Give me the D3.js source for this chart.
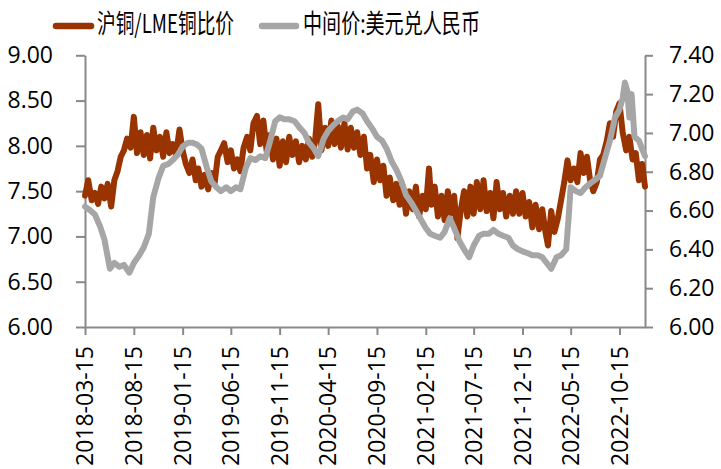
<!DOCTYPE html>
<html><head><meta charset="utf-8">
<script src="https://cdn.jsdelivr.net/npm/d3@7"></script>
<style>
html,body{margin:0;padding:0;background:#fff;}
svg{display:block;}
</style></head>
<body>
<svg id="chart" width="721" height="469"></svg>
<script>
// ---- data ----
const seriesNames = ["沪铜/LME铜比价", "中间价:美元兑人民币"];
const leftTicks = [6.0, 6.5, 7.0, 7.5, 8.0, 8.5, 9.0];
const rightTicks = [6.0, 6.2, 6.4, 6.6, 6.8, 7.0, 7.2, 7.4];
const xTickLabels = ["2018-03-15","2018-08-15","2019-01-15","2019-06-15","2019-11-15","2020-04-15",
  "2020-09-15","2021-02-15","2021-07-15","2021-12-15","2022-05-15","2022-10-15"];
const xDomain = ["2018-03-15", "2023-01-03"];

const copperRatio = [
["2018-03-15",7.45],["2018-03-25",7.62],["2018-04-05",7.40],["2018-04-15",7.48],["2018-04-25",7.36],
["2018-05-05",7.55],["2018-05-15",7.42],["2018-05-25",7.58],["2018-06-05",7.33],["2018-06-15",7.62],
["2018-06-25",7.72],["2018-07-05",7.88],["2018-07-15",7.95],["2018-07-25",8.08],["2018-08-05",7.98],
["2018-08-15",8.32],["2018-08-25",7.92],["2018-09-05",8.15],["2018-09-15",7.90],["2018-09-25",8.12],
["2018-10-05",7.86],["2018-10-15",8.20],["2018-10-25",7.95],["2018-11-05",8.10],["2018-11-15",7.88],
["2018-11-25",8.15],["2018-12-05",7.92],["2018-12-15",8.02],["2018-12-25",7.90],["2019-01-05",8.18],
["2019-01-15",7.95],["2019-01-25",7.80],["2019-02-05",7.70],["2019-02-15",7.85],["2019-02-25",7.62],
["2019-03-05",7.75],["2019-03-15",7.55],["2019-03-25",7.68],["2019-04-05",7.52],["2019-04-15",7.70],
["2019-04-25",7.58],["2019-05-05",7.88],["2019-05-15",7.95],["2019-05-25",8.03],["2019-06-05",7.82],
["2019-06-15",7.95],["2019-06-25",7.75],["2019-07-05",7.85],["2019-07-15",7.72],["2019-07-25",7.98],
["2019-08-05",8.10],["2019-08-15",7.95],["2019-08-25",8.25],["2019-09-05",8.33],["2019-09-15",8.02],
["2019-09-25",8.28],["2019-10-05",7.95],["2019-10-15",8.12],["2019-10-25",7.85],["2019-11-05",8.08],
["2019-11-15",7.78],["2019-11-25",8.05],["2019-12-05",7.82],["2019-12-15",8.10],["2019-12-25",7.90],
["2020-01-05",8.05],["2020-01-15",7.82],["2020-01-25",8.00],["2020-02-05",7.85],["2020-02-15",8.08],
["2020-02-25",7.88],["2020-03-05",8.05],["2020-03-15",8.46],["2020-03-25",7.95],["2020-04-05",8.20],
["2020-04-15",8.00],["2020-04-25",8.28],["2020-05-05",8.02],["2020-05-15",8.22],["2020-05-25",7.98],
["2020-06-05",8.25],["2020-06-15",7.96],["2020-06-25",8.20],["2020-07-05",7.98],["2020-07-15",8.15],
["2020-07-25",7.90],["2020-08-05",8.10],["2020-08-15",7.75],["2020-08-25",7.90],["2020-09-05",7.60],
["2020-09-15",7.85],["2020-09-25",7.62],["2020-10-05",7.78],["2020-10-15",7.45],["2020-10-25",7.65],
["2020-11-05",7.40],["2020-11-15",7.58],["2020-11-25",7.35],["2020-12-05",7.55],["2020-12-15",7.25],
["2020-12-25",7.50],["2021-01-05",7.30],["2021-01-15",7.55],["2021-01-25",7.22],["2021-02-05",7.45],
["2021-02-15",7.30],["2021-02-25",7.75],["2021-03-05",7.35],["2021-03-15",7.55],["2021-03-25",7.22],
["2021-04-05",7.45],["2021-04-15",7.18],["2021-04-25",7.50],["2021-05-05",7.25],["2021-05-15",7.45],
["2021-05-25",6.98],["2021-06-05",7.30],["2021-06-15",7.50],["2021-06-25",7.22],["2021-07-05",7.55],
["2021-07-15",7.25],["2021-07-25",7.60],["2021-08-05",7.30],["2021-08-15",7.62],["2021-08-25",7.28],
["2021-09-05",7.48],["2021-09-15",7.20],["2021-09-25",7.60],["2021-10-05",7.30],["2021-10-15",7.48],
["2021-10-25",7.22],["2021-11-05",7.45],["2021-11-15",7.25],["2021-11-25",7.50],["2021-12-05",7.25],
["2021-12-15",7.48],["2021-12-25",7.22],["2022-01-05",7.38],["2022-01-15",7.10],["2022-01-25",7.35],
["2022-02-05",7.08],["2022-02-15",7.30],["2022-02-25",7.05],["2022-03-05",6.90],["2022-03-15",7.28],
["2022-03-25",7.05],["2022-04-05",7.20],["2022-04-15",7.40],["2022-04-25",7.60],["2022-05-05",7.84],
["2022-05-15",7.62],["2022-05-25",7.75],["2022-06-05",7.60],["2022-06-15",7.92],["2022-06-25",7.70],
["2022-07-05",7.88],["2022-07-15",7.62],["2022-07-25",7.50],["2022-08-05",7.60],["2022-08-15",7.85],
["2022-08-25",7.90],["2022-09-05",8.05],["2022-09-15",8.25],["2022-09-25",8.10],["2022-10-05",8.38],
["2022-10-15",8.47],["2022-10-25",8.15],["2022-11-05",7.95],["2022-11-15",8.10],["2022-11-25",7.85],
["2022-12-05",7.92],["2022-12-15",7.62],["2022-12-25",7.80],["2023-01-03",7.55]
];

const usdCny = [
["2018-03-15",6.62],["2018-04-01",6.60],["2018-04-15",6.58],["2018-05-01",6.52],["2018-05-15",6.45],
["2018-06-01",6.30],["2018-06-15",6.33],["2018-07-01",6.31],["2018-07-15",6.32],["2018-08-01",6.28],
["2018-08-15",6.33],["2018-09-01",6.37],["2018-09-15",6.41],["2018-10-01",6.48],["2018-10-15",6.67],
["2018-11-01",6.77],["2018-11-15",6.83],["2018-12-01",6.84],["2018-12-15",6.86],["2019-01-01",6.89],
["2019-01-15",6.93],["2019-02-01",6.95],["2019-02-15",6.95],["2019-03-01",6.94],["2019-03-15",6.92],
["2019-04-01",6.82],["2019-04-15",6.75],["2019-05-01",6.72],["2019-05-15",6.70],["2019-06-01",6.72],
["2019-06-15",6.70],["2019-07-01",6.72],["2019-07-15",6.71],["2019-08-01",6.82],["2019-08-15",6.87],
["2019-09-01",6.86],["2019-09-15",6.88],["2019-10-01",6.87],["2019-10-15",6.95],["2019-11-01",7.06],
["2019-11-15",7.08],["2019-12-01",7.07],["2019-12-15",7.07],["2020-01-01",7.06],["2020-01-15",7.03],
["2020-02-01",7.00],["2020-02-15",6.95],["2020-03-01",6.92],["2020-03-15",6.88],["2020-04-01",6.97],
["2020-04-15",7.01],["2020-05-01",7.04],["2020-05-15",7.06],["2020-06-01",7.08],["2020-06-15",7.07],
["2020-07-01",7.11],["2020-07-15",7.12],["2020-08-01",7.10],["2020-08-15",7.06],["2020-09-01",7.02],
["2020-09-15",6.98],["2020-10-01",6.96],["2020-10-15",6.92],["2020-11-01",6.85],["2020-11-15",6.81],
["2020-12-01",6.75],["2020-12-15",6.68],["2021-01-01",6.64],["2021-01-15",6.60],["2021-02-01",6.55],
["2021-02-15",6.51],["2021-03-01",6.48],["2021-03-15",6.47],["2021-04-01",6.46],["2021-04-15",6.49],
["2021-05-01",6.56],["2021-05-15",6.51],["2021-06-01",6.44],["2021-06-15",6.40],["2021-07-01",6.36],
["2021-07-15",6.42],["2021-08-01",6.47],["2021-08-15",6.48],["2021-09-01",6.48],["2021-09-15",6.50],
["2021-10-01",6.48],["2021-10-15",6.47],["2021-11-01",6.46],["2021-11-15",6.42],["2021-12-01",6.40],
["2021-12-15",6.39],["2022-01-01",6.38],["2022-01-15",6.37],["2022-02-01",6.37],["2022-02-15",6.36],
["2022-03-01",6.33],["2022-03-15",6.30],["2022-04-01",6.36],["2022-04-15",6.37],["2022-05-01",6.40],
["2022-05-08",6.55],["2022-05-15",6.72],["2022-06-01",6.70],["2022-06-15",6.69],["2022-07-01",6.72],
["2022-07-15",6.74],["2022-08-01",6.76],["2022-08-15",6.78],["2022-09-01",6.88],["2022-09-15",6.96],
["2022-10-01",7.08],["2022-10-15",7.12],["2022-10-25",7.18],["2022-11-01",7.26],["2022-11-08",7.22],
["2022-11-15",7.08],["2022-11-22",7.20],["2022-12-01",6.98],["2022-12-15",6.96],["2023-01-03",6.88]
];

const colors = ["#993300", "#a6a6a6"];

// ---- chart ----
const parse = d3.timeParse("%Y-%m-%d");
const svg = d3.select("#chart");
const plotLeft = 85, plotRight = 645, plotTop = 55.3, plotBottom = 327;
const axisColor = "#898989";
const numFont = "'Open Sans', 'Liberation Sans', sans-serif";

const x = d3.scaleTime().domain(xDomain.map(parse)).range([plotLeft, plotRight]);
const yL = d3.scaleLinear().domain([6, 9]).range([plotBottom, plotTop]);
const yR = d3.scaleLinear().domain([6, 7.4]).range([plotBottom, plotTop]);

function styleAxis(g) {
  g.select(".domain").attr("stroke", axisColor).attr("stroke-width", 2);
  g.selectAll(".tick line").attr("stroke", axisColor).attr("stroke-width", 2);
  g.selectAll(".tick text").attr("fill", "#000").style("font-family", numFont).style("font-size", "23px");
}

svg.append("g").attr("transform", `translate(${plotLeft},0)`)
  .call(d3.axisLeft(yL).tickValues(leftTicks).tickFormat(d3.format(".2f")).tickSize(9).tickSizeOuter(0).tickPadding(23))
  .call(styleAxis);

svg.append("g").attr("transform", `translate(${plotRight},0)`)
  .call(d3.axisRight(yR).tickValues(rightTicks).tickFormat(d3.format(".2f")).tickSize(8).tickSizeOuter(0).tickPadding(16))
  .call(styleAxis);

svg.append("g").attr("transform", `translate(0,${plotBottom})`)
  .call(d3.axisBottom(x).tickValues(xTickLabels.map(parse)).tickSize(8).tickSizeOuter(0).tickFormat(""))
  .call(styleAxis);

svg.append("g").selectAll("text").data(xTickLabels).join("text")
  .attr("transform", d => `translate(${x(parse(d))},346) rotate(-90)`)
  .attr("text-anchor", "end").attr("dy", "0.36em")
  .style("font-family", numFont).style("font-size", "23px").attr("fill", "#000")
  .text(d => d);

const lineL = d3.line().x(d => x(parse(d[0]))).y(d => yL(d[1]));
const lineR = d3.line().x(d => x(parse(d[0]))).y(d => yR(d[1]));

svg.append("path").datum(copperRatio).attr("d", lineL)
  .attr("fill", "none").attr("stroke", colors[0]).attr("stroke-width", 6)
  .attr("stroke-linejoin", "round").attr("stroke-linecap", "round");
svg.append("path").datum(usdCny).attr("d", lineR)
  .attr("fill", "none").attr("stroke", colors[1]).attr("stroke-width", 6)
  .attr("stroke-linejoin", "round").attr("stroke-linecap", "round");

// ---- legend ----
const legendItems = [
  {name: seriesNames[0], color: colors[0], x1: 56, x2: 91, tx: 97, len: 137},
  {name: seriesNames[1], color: colors[1], x1: 262, x2: 296, tx: 303, len: 177}
];
const lg = svg.append("g");
legendItems.forEach(it => {
  lg.append("line").attr("x1", it.x1).attr("x2", it.x2).attr("y1", 26).attr("y2", 26)
    .attr("stroke", it.color).attr("stroke-width", 6.5).attr("stroke-linecap", "round");
  lg.append("text").attr("x", it.tx).attr("y", 24).attr("dy", "0.36em")
    .attr("textLength", it.len).attr("lengthAdjust", "spacingAndGlyphs")
    .style("font-family", "'Noto Sans CJK SC', 'Open Sans', sans-serif").style("font-size", "26px")
    .attr("fill", "#000").text(it.name);
});
</script>
</body></html>
